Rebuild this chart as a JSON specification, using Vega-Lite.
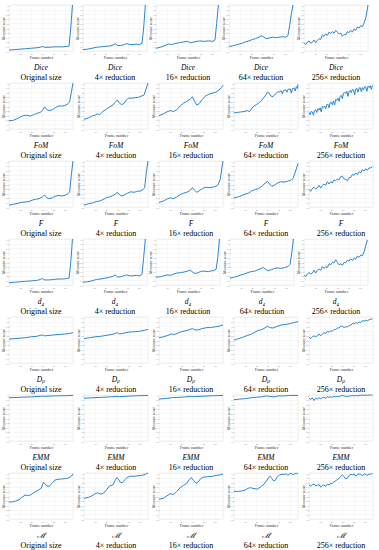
{
"$schema":"https://vega.github.io/schema/vega-lite/v6.json",
"padding":{"left":0,"right":0,"top":2,"bottom":0},
"spacing":-4,
"data":{"values":[
{"p":"a1","x":0,"y":0.02},{"p":"a1","x":10,"y":0.03},{"p":"a1","x":20,"y":0.04},{"p":"a1","x":30,"y":0.05},{"p":"a1","x":40,"y":0.06},{"p":"a1","x":50,"y":0.07},{"p":"a1","x":56,"y":0.08},{"p":"a1","x":60,"y":0.1},{"p":"a1","x":64,"y":0.08},{"p":"a1","x":72,"y":0.08},{"p":"a1","x":80,"y":0.09},{"p":"a1","x":88,"y":0.09},{"p":"a1","x":96,"y":0.09},{"p":"a1","x":104,"y":0.1},{"p":"a1","x":108,"y":0.11},{"p":"a1","x":111,"y":0.5},{"p":"a1","x":114,"y":1},
{"p":"a2","x":0,"y":0.03},{"p":"a2","x":8,"y":0.04},{"p":"a2","x":16,"y":0.06},{"p":"a2","x":24,"y":0.08},{"p":"a2","x":32,"y":0.09},{"p":"a2","x":40,"y":0.1},{"p":"a2","x":48,"y":0.11},{"p":"a2","x":54,"y":0.13},{"p":"a2","x":58,"y":0.16},{"p":"a2","x":62,"y":0.12},{"p":"a2","x":68,"y":0.12},{"p":"a2","x":74,"y":0.14},{"p":"a2","x":78,"y":0.16},{"p":"a2","x":84,"y":0.14},{"p":"a2","x":90,"y":0.14},{"p":"a2","x":96,"y":0.15},{"p":"a2","x":102,"y":0.14},{"p":"a2","x":106,"y":0.17},{"p":"a2","x":109,"y":0.5},{"p":"a2","x":112,"y":1},
{"p":"a3","x":0,"y":0.06},{"p":"a3","x":8,"y":0.08},{"p":"a3","x":16,"y":0.12},{"p":"a3","x":22,"y":0.15},{"p":"a3","x":28,"y":0.14},{"p":"a3","x":34,"y":0.16},{"p":"a3","x":42,"y":0.18},{"p":"a3","x":50,"y":0.2},{"p":"a3","x":56,"y":0.21},{"p":"a3","x":62,"y":0.18},{"p":"a3","x":70,"y":0.2},{"p":"a3","x":78,"y":0.22},{"p":"a3","x":86,"y":0.21},{"p":"a3","x":94,"y":0.22},{"p":"a3","x":102,"y":0.21},{"p":"a3","x":106,"y":0.24},{"p":"a3","x":109,"y":0.6},{"p":"a3","x":112,"y":1},
{"p":"a4","x":0,"y":0.1},{"p":"a4","x":6,"y":0.11},{"p":"a4","x":12,"y":0.13},{"p":"a4","x":18,"y":0.15},{"p":"a4","x":24,"y":0.17},{"p":"a4","x":30,"y":0.2},{"p":"a4","x":36,"y":0.22},{"p":"a4","x":42,"y":0.25},{"p":"a4","x":48,"y":0.27},{"p":"a4","x":54,"y":0.3},{"p":"a4","x":58,"y":0.33},{"p":"a4","x":62,"y":0.31},{"p":"a4","x":66,"y":0.27},{"p":"a4","x":72,"y":0.28},{"p":"a4","x":78,"y":0.3},{"p":"a4","x":84,"y":0.29},{"p":"a4","x":90,"y":0.3},{"p":"a4","x":96,"y":0.31},{"p":"a4","x":102,"y":0.3},{"p":"a4","x":106,"y":0.34},{"p":"a4","x":109,"y":0.55},{"p":"a4","x":112,"y":0.8},{"p":"a4","x":115,"y":1},
{"p":"a5","x":0,"y":0.18},{"p":"a5","x":3,"y":0.14},{"p":"a5","x":6,"y":0.19},{"p":"a5","x":9,"y":0.22},{"p":"a5","x":12,"y":0.17},{"p":"a5","x":15,"y":0.19},{"p":"a5","x":18,"y":0.24},{"p":"a5","x":21,"y":0.18},{"p":"a5","x":24,"y":0.23},{"p":"a5","x":27,"y":0.27},{"p":"a5","x":30,"y":0.25},{"p":"a5","x":33,"y":0.35},{"p":"a5","x":36,"y":0.32},{"p":"a5","x":39,"y":0.37},{"p":"a5","x":42,"y":0.34},{"p":"a5","x":45,"y":0.41},{"p":"a5","x":48,"y":0.38},{"p":"a5","x":51,"y":0.42},{"p":"a5","x":54,"y":0.39},{"p":"a5","x":57,"y":0.45},{"p":"a5","x":60,"y":0.41},{"p":"a5","x":63,"y":0.37},{"p":"a5","x":66,"y":0.39},{"p":"a5","x":69,"y":0.32},{"p":"a5","x":72,"y":0.36},{"p":"a5","x":75,"y":0.35},{"p":"a5","x":78,"y":0.42},{"p":"a5","x":81,"y":0.4},{"p":"a5","x":84,"y":0.45},{"p":"a5","x":87,"y":0.41},{"p":"a5","x":90,"y":0.48},{"p":"a5","x":93,"y":0.45},{"p":"a5","x":96,"y":0.52},{"p":"a5","x":99,"y":0.5},{"p":"a5","x":102,"y":0.55},{"p":"a5","x":105,"y":0.53},{"p":"a5","x":108,"y":0.61},{"p":"a5","x":111,"y":0.72},{"p":"a5","x":113,"y":0.85},{"p":"a5","x":115,"y":1},
{"p":"b1","x":0,"y":0.18},{"p":"b1","x":8,"y":0.19},{"p":"b1","x":14,"y":0.22},{"p":"b1","x":20,"y":0.26},{"p":"b1","x":26,"y":0.29},{"p":"b1","x":32,"y":0.3},{"p":"b1","x":38,"y":0.28},{"p":"b1","x":44,"y":0.31},{"p":"b1","x":50,"y":0.34},{"p":"b1","x":56,"y":0.36},{"p":"b1","x":60,"y":0.4},{"p":"b1","x":64,"y":0.48},{"p":"b1","x":68,"y":0.42},{"p":"b1","x":72,"y":0.4},{"p":"b1","x":78,"y":0.42},{"p":"b1","x":84,"y":0.47},{"p":"b1","x":90,"y":0.5},{"p":"b1","x":96,"y":0.5},{"p":"b1","x":102,"y":0.52},{"p":"b1","x":106,"y":0.55},{"p":"b1","x":109,"y":0.59},{"p":"b1","x":112,"y":0.8},{"p":"b1","x":115,"y":1},
{"p":"b2","x":0,"y":0.21},{"p":"b2","x":8,"y":0.24},{"p":"b2","x":14,"y":0.28},{"p":"b2","x":20,"y":0.3},{"p":"b2","x":24,"y":0.33},{"p":"b2","x":28,"y":0.31},{"p":"b2","x":34,"y":0.38},{"p":"b2","x":40,"y":0.43},{"p":"b2","x":46,"y":0.48},{"p":"b2","x":52,"y":0.52},{"p":"b2","x":56,"y":0.58},{"p":"b2","x":60,"y":0.63},{"p":"b2","x":64,"y":0.56},{"p":"b2","x":68,"y":0.53},{"p":"b2","x":72,"y":0.56},{"p":"b2","x":76,"y":0.63},{"p":"b2","x":80,"y":0.67},{"p":"b2","x":86,"y":0.67},{"p":"b2","x":92,"y":0.68},{"p":"b2","x":98,"y":0.69},{"p":"b2","x":104,"y":0.72},{"p":"b2","x":108,"y":0.74},{"p":"b2","x":111,"y":0.85},{"p":"b2","x":115,"y":1},
{"p":"b3","x":0,"y":0.29},{"p":"b3","x":8,"y":0.33},{"p":"b3","x":14,"y":0.37},{"p":"b3","x":20,"y":0.4},{"p":"b3","x":26,"y":0.38},{"p":"b3","x":32,"y":0.42},{"p":"b3","x":38,"y":0.5},{"p":"b3","x":44,"y":0.56},{"p":"b3","x":50,"y":0.6},{"p":"b3","x":56,"y":0.65},{"p":"b3","x":60,"y":0.7},{"p":"b3","x":64,"y":0.6},{"p":"b3","x":68,"y":0.52},{"p":"b3","x":72,"y":0.55},{"p":"b3","x":78,"y":0.65},{"p":"b3","x":84,"y":0.72},{"p":"b3","x":90,"y":0.76},{"p":"b3","x":96,"y":0.78},{"p":"b3","x":102,"y":0.8},{"p":"b3","x":108,"y":0.85},{"p":"b3","x":112,"y":0.9},{"p":"b3","x":115,"y":0.95},
{"p":"b4","x":0,"y":0.35},{"p":"b4","x":6,"y":0.36},{"p":"b4","x":12,"y":0.37},{"p":"b4","x":18,"y":0.38},{"p":"b4","x":24,"y":0.4},{"p":"b4","x":28,"y":0.38},{"p":"b4","x":32,"y":0.45},{"p":"b4","x":36,"y":0.5},{"p":"b4","x":40,"y":0.53},{"p":"b4","x":44,"y":0.56},{"p":"b4","x":48,"y":0.6},{"p":"b4","x":52,"y":0.66},{"p":"b4","x":56,"y":0.72},{"p":"b4","x":60,"y":0.8},{"p":"b4","x":63,"y":0.78},{"p":"b4","x":66,"y":0.72},{"p":"b4","x":70,"y":0.7},{"p":"b4","x":74,"y":0.76},{"p":"b4","x":78,"y":0.8},{"p":"b4","x":82,"y":0.81},{"p":"b4","x":85,"y":0.83},{"p":"b4","x":87,"y":0.76},{"p":"b4","x":89,"y":0.84},{"p":"b4","x":93,"y":0.85},{"p":"b4","x":95,"y":0.8},{"p":"b4","x":97,"y":0.86},{"p":"b4","x":101,"y":0.87},{"p":"b4","x":103,"y":0.78},{"p":"b4","x":105,"y":0.88},{"p":"b4","x":108,"y":0.89},{"p":"b4","x":110,"y":0.83},{"p":"b4","x":112,"y":0.92},{"p":"b4","x":114,"y":0.88},{"p":"b4","x":115,"y":0.97},
{"p":"b5","x":0,"y":0.36},{"p":"b5","x":2,"y":0.31},{"p":"b5","x":4,"y":0.38},{"p":"b5","x":6,"y":0.37},{"p":"b5","x":8,"y":0.3},{"p":"b5","x":10,"y":0.4},{"p":"b5","x":12,"y":0.42},{"p":"b5","x":14,"y":0.36},{"p":"b5","x":16,"y":0.44},{"p":"b5","x":18,"y":0.41},{"p":"b5","x":20,"y":0.46},{"p":"b5","x":22,"y":0.37},{"p":"b5","x":24,"y":0.49},{"p":"b5","x":26,"y":0.47},{"p":"b5","x":28,"y":0.5},{"p":"b5","x":30,"y":0.44},{"p":"b5","x":32,"y":0.53},{"p":"b5","x":34,"y":0.54},{"p":"b5","x":36,"y":0.46},{"p":"b5","x":38,"y":0.57},{"p":"b5","x":40,"y":0.58},{"p":"b5","x":42,"y":0.53},{"p":"b5","x":44,"y":0.61},{"p":"b5","x":46,"y":0.52},{"p":"b5","x":48,"y":0.64},{"p":"b5","x":50,"y":0.62},{"p":"b5","x":52,"y":0.67},{"p":"b5","x":54,"y":0.6},{"p":"b5","x":56,"y":0.71},{"p":"b5","x":58,"y":0.73},{"p":"b5","x":60,"y":0.66},{"p":"b5","x":62,"y":0.78},{"p":"b5","x":64,"y":0.8},{"p":"b5","x":66,"y":0.77},{"p":"b5","x":68,"y":0.82},{"p":"b5","x":70,"y":0.71},{"p":"b5","x":72,"y":0.81},{"p":"b5","x":74,"y":0.84},{"p":"b5","x":76,"y":0.79},{"p":"b5","x":78,"y":0.86},{"p":"b5","x":80,"y":0.85},{"p":"b5","x":82,"y":0.74},{"p":"b5","x":84,"y":0.87},{"p":"b5","x":86,"y":0.88},{"p":"b5","x":88,"y":0.8},{"p":"b5","x":90,"y":0.89},{"p":"b5","x":92,"y":0.9},{"p":"b5","x":94,"y":0.81},{"p":"b5","x":96,"y":0.9},{"p":"b5","x":98,"y":0.85},{"p":"b5","x":100,"y":0.92},{"p":"b5","x":102,"y":0.91},{"p":"b5","x":104,"y":0.82},{"p":"b5","x":106,"y":0.93},{"p":"b5","x":108,"y":0.9},{"p":"b5","x":110,"y":0.94},{"p":"b5","x":112,"y":0.86},{"p":"b5","x":114,"y":0.95},
{"p":"c1","x":0,"y":0.04},{"p":"c1","x":8,"y":0.06},{"p":"c1","x":16,"y":0.08},{"p":"c1","x":22,"y":0.1},{"p":"c1","x":30,"y":0.11},{"p":"c1","x":36,"y":0.12},{"p":"c1","x":42,"y":0.15},{"p":"c1","x":48,"y":0.17},{"p":"c1","x":54,"y":0.18},{"p":"c1","x":60,"y":0.22},{"p":"c1","x":64,"y":0.26},{"p":"c1","x":68,"y":0.2},{"p":"c1","x":72,"y":0.18},{"p":"c1","x":78,"y":0.2},{"p":"c1","x":84,"y":0.24},{"p":"c1","x":90,"y":0.25},{"p":"c1","x":96,"y":0.24},{"p":"c1","x":102,"y":0.26},{"p":"c1","x":106,"y":0.29},{"p":"c1","x":109,"y":0.33},{"p":"c1","x":112,"y":0.7},{"p":"c1","x":115,"y":1},
{"p":"c2","x":0,"y":0.04},{"p":"c2","x":8,"y":0.07},{"p":"c2","x":16,"y":0.09},{"p":"c2","x":22,"y":0.12},{"p":"c2","x":28,"y":0.13},{"p":"c2","x":34,"y":0.16},{"p":"c2","x":40,"y":0.2},{"p":"c2","x":46,"y":0.22},{"p":"c2","x":52,"y":0.25},{"p":"c2","x":56,"y":0.28},{"p":"c2","x":60,"y":0.32},{"p":"c2","x":64,"y":0.26},{"p":"c2","x":68,"y":0.24},{"p":"c2","x":72,"y":0.26},{"p":"c2","x":78,"y":0.3},{"p":"c2","x":84,"y":0.33},{"p":"c2","x":90,"y":0.32},{"p":"c2","x":96,"y":0.34},{"p":"c2","x":102,"y":0.35},{"p":"c2","x":106,"y":0.38},{"p":"c2","x":109,"y":0.42},{"p":"c2","x":112,"y":0.75},{"p":"c2","x":115,"y":1},
{"p":"c3","x":0,"y":0.1},{"p":"c3","x":8,"y":0.13},{"p":"c3","x":14,"y":0.17},{"p":"c3","x":20,"y":0.2},{"p":"c3","x":26,"y":0.18},{"p":"c3","x":32,"y":0.22},{"p":"c3","x":38,"y":0.27},{"p":"c3","x":44,"y":0.3},{"p":"c3","x":50,"y":0.32},{"p":"c3","x":56,"y":0.36},{"p":"c3","x":60,"y":0.42},{"p":"c3","x":64,"y":0.36},{"p":"c3","x":68,"y":0.32},{"p":"c3","x":72,"y":0.35},{"p":"c3","x":78,"y":0.4},{"p":"c3","x":84,"y":0.43},{"p":"c3","x":90,"y":0.42},{"p":"c3","x":96,"y":0.43},{"p":"c3","x":102,"y":0.45},{"p":"c3","x":106,"y":0.48},{"p":"c3","x":110,"y":0.6},{"p":"c3","x":113,"y":0.85},{"p":"c3","x":115,"y":1},
{"p":"c4","x":0,"y":0.2},{"p":"c4","x":8,"y":0.22},{"p":"c4","x":14,"y":0.25},{"p":"c4","x":20,"y":0.28},{"p":"c4","x":26,"y":0.3},{"p":"c4","x":32,"y":0.35},{"p":"c4","x":38,"y":0.38},{"p":"c4","x":44,"y":0.4},{"p":"c4","x":50,"y":0.45},{"p":"c4","x":56,"y":0.52},{"p":"c4","x":60,"y":0.56},{"p":"c4","x":64,"y":0.5},{"p":"c4","x":68,"y":0.45},{"p":"c4","x":72,"y":0.47},{"p":"c4","x":78,"y":0.52},{"p":"c4","x":84,"y":0.55},{"p":"c4","x":90,"y":0.54},{"p":"c4","x":96,"y":0.56},{"p":"c4","x":102,"y":0.58},{"p":"c4","x":106,"y":0.62},{"p":"c4","x":110,"y":0.75},{"p":"c4","x":115,"y":0.95},
{"p":"c5","x":0,"y":0.38},{"p":"c5","x":3,"y":0.34},{"p":"c5","x":6,"y":0.4},{"p":"c5","x":9,"y":0.43},{"p":"c5","x":12,"y":0.39},{"p":"c5","x":15,"y":0.42},{"p":"c5","x":18,"y":0.47},{"p":"c5","x":21,"y":0.41},{"p":"c5","x":24,"y":0.47},{"p":"c5","x":27,"y":0.5},{"p":"c5","x":30,"y":0.47},{"p":"c5","x":33,"y":0.55},{"p":"c5","x":36,"y":0.5},{"p":"c5","x":39,"y":0.55},{"p":"c5","x":42,"y":0.52},{"p":"c5","x":45,"y":0.59},{"p":"c5","x":48,"y":0.57},{"p":"c5","x":51,"y":0.61},{"p":"c5","x":54,"y":0.59},{"p":"c5","x":57,"y":0.66},{"p":"c5","x":60,"y":0.67},{"p":"c5","x":63,"y":0.61},{"p":"c5","x":66,"y":0.6},{"p":"c5","x":69,"y":0.57},{"p":"c5","x":72,"y":0.64},{"p":"c5","x":75,"y":0.64},{"p":"c5","x":78,"y":0.71},{"p":"c5","x":81,"y":0.69},{"p":"c5","x":84,"y":0.74},{"p":"c5","x":87,"y":0.7},{"p":"c5","x":90,"y":0.77},{"p":"c5","x":93,"y":0.74},{"p":"c5","x":96,"y":0.81},{"p":"c5","x":99,"y":0.78},{"p":"c5","x":102,"y":0.83},{"p":"c5","x":105,"y":0.8},{"p":"c5","x":108,"y":0.85},{"p":"c5","x":111,"y":0.85},{"p":"c5","x":114,"y":0.88},
{"p":"d1","x":0,"y":0.05},{"p":"d1","x":10,"y":0.06},{"p":"d1","x":20,"y":0.07},{"p":"d1","x":30,"y":0.08},{"p":"d1","x":40,"y":0.09},{"p":"d1","x":50,"y":0.1},{"p":"d1","x":56,"y":0.12},{"p":"d1","x":60,"y":0.14},{"p":"d1","x":64,"y":0.11},{"p":"d1","x":72,"y":0.11},{"p":"d1","x":80,"y":0.12},{"p":"d1","x":88,"y":0.13},{"p":"d1","x":96,"y":0.13},{"p":"d1","x":104,"y":0.14},{"p":"d1","x":108,"y":0.15},{"p":"d1","x":111,"y":0.5},{"p":"d1","x":114,"y":1},
{"p":"d2","x":0,"y":0.06},{"p":"d2","x":8,"y":0.07},{"p":"d2","x":16,"y":0.09},{"p":"d2","x":24,"y":0.12},{"p":"d2","x":32,"y":0.13},{"p":"d2","x":40,"y":0.15},{"p":"d2","x":48,"y":0.17},{"p":"d2","x":54,"y":0.19},{"p":"d2","x":58,"y":0.22},{"p":"d2","x":62,"y":0.17},{"p":"d2","x":68,"y":0.18},{"p":"d2","x":74,"y":0.2},{"p":"d2","x":78,"y":0.22},{"p":"d2","x":84,"y":0.2},{"p":"d2","x":90,"y":0.2},{"p":"d2","x":96,"y":0.21},{"p":"d2","x":102,"y":0.2},{"p":"d2","x":106,"y":0.23},{"p":"d2","x":109,"y":0.6},{"p":"d2","x":112,"y":1},
{"p":"d3","x":0,"y":0.17},{"p":"d3","x":8,"y":0.18},{"p":"d3","x":14,"y":0.2},{"p":"d3","x":20,"y":0.22},{"p":"d3","x":26,"y":0.21},{"p":"d3","x":32,"y":0.24},{"p":"d3","x":38,"y":0.26},{"p":"d3","x":44,"y":0.27},{"p":"d3","x":50,"y":0.28},{"p":"d3","x":56,"y":0.3},{"p":"d3","x":62,"y":0.32},{"p":"d3","x":66,"y":0.28},{"p":"d3","x":70,"y":0.25},{"p":"d3","x":76,"y":0.27},{"p":"d3","x":82,"y":0.3},{"p":"d3","x":88,"y":0.3},{"p":"d3","x":94,"y":0.29},{"p":"d3","x":100,"y":0.31},{"p":"d3","x":105,"y":0.32},{"p":"d3","x":108,"y":0.34},{"p":"d3","x":111,"y":0.6},{"p":"d3","x":114,"y":1},
{"p":"d4","x":0,"y":0.15},{"p":"d4","x":8,"y":0.17},{"p":"d4","x":14,"y":0.19},{"p":"d4","x":20,"y":0.22},{"p":"d4","x":26,"y":0.24},{"p":"d4","x":32,"y":0.27},{"p":"d4","x":38,"y":0.29},{"p":"d4","x":44,"y":0.3},{"p":"d4","x":50,"y":0.33},{"p":"d4","x":56,"y":0.36},{"p":"d4","x":60,"y":0.38},{"p":"d4","x":64,"y":0.34},{"p":"d4","x":68,"y":0.31},{"p":"d4","x":74,"y":0.33},{"p":"d4","x":80,"y":0.36},{"p":"d4","x":86,"y":0.37},{"p":"d4","x":92,"y":0.36},{"p":"d4","x":98,"y":0.38},{"p":"d4","x":104,"y":0.4},{"p":"d4","x":108,"y":0.45},{"p":"d4","x":111,"y":0.7},{"p":"d4","x":114,"y":1},
{"p":"d5","x":0,"y":0.22},{"p":"d5","x":3,"y":0.18},{"p":"d5","x":6,"y":0.24},{"p":"d5","x":9,"y":0.27},{"p":"d5","x":12,"y":0.24},{"p":"d5","x":15,"y":0.26},{"p":"d5","x":18,"y":0.32},{"p":"d5","x":21,"y":0.26},{"p":"d5","x":24,"y":0.32},{"p":"d5","x":27,"y":0.35},{"p":"d5","x":30,"y":0.32},{"p":"d5","x":33,"y":0.4},{"p":"d5","x":36,"y":0.36},{"p":"d5","x":39,"y":0.4},{"p":"d5","x":42,"y":0.38},{"p":"d5","x":45,"y":0.46},{"p":"d5","x":48,"y":0.44},{"p":"d5","x":51,"y":0.49},{"p":"d5","x":54,"y":0.48},{"p":"d5","x":57,"y":0.55},{"p":"d5","x":60,"y":0.49},{"p":"d5","x":63,"y":0.44},{"p":"d5","x":66,"y":0.46},{"p":"d5","x":69,"y":0.43},{"p":"d5","x":72,"y":0.49},{"p":"d5","x":75,"y":0.48},{"p":"d5","x":78,"y":0.54},{"p":"d5","x":81,"y":0.52},{"p":"d5","x":84,"y":0.57},{"p":"d5","x":87,"y":0.53},{"p":"d5","x":90,"y":0.59},{"p":"d5","x":93,"y":0.56},{"p":"d5","x":96,"y":0.63},{"p":"d5","x":99,"y":0.6},{"p":"d5","x":102,"y":0.65},{"p":"d5","x":105,"y":0.64},{"p":"d5","x":108,"y":0.72},{"p":"d5","x":111,"y":0.86},{"p":"d5","x":114,"y":0.98},
{"p":"e1","x":0,"y":0.52},{"p":"e1","x":10,"y":0.53},{"p":"e1","x":20,"y":0.54},{"p":"e1","x":30,"y":0.55},{"p":"e1","x":40,"y":0.57},{"p":"e1","x":50,"y":0.58},{"p":"e1","x":56,"y":0.6},{"p":"e1","x":60,"y":0.61},{"p":"e1","x":64,"y":0.59},{"p":"e1","x":72,"y":0.6},{"p":"e1","x":80,"y":0.61},{"p":"e1","x":90,"y":0.62},{"p":"e1","x":100,"y":0.63},{"p":"e1","x":108,"y":0.64},{"p":"e1","x":115,"y":0.66},
{"p":"e2","x":0,"y":0.53},{"p":"e2","x":10,"y":0.55},{"p":"e2","x":20,"y":0.57},{"p":"e2","x":30,"y":0.58},{"p":"e2","x":40,"y":0.6},{"p":"e2","x":50,"y":0.62},{"p":"e2","x":56,"y":0.64},{"p":"e2","x":60,"y":0.66},{"p":"e2","x":64,"y":0.63},{"p":"e2","x":72,"y":0.65},{"p":"e2","x":80,"y":0.67},{"p":"e2","x":90,"y":0.68},{"p":"e2","x":100,"y":0.69},{"p":"e2","x":108,"y":0.71},{"p":"e2","x":115,"y":0.73},
{"p":"e3","x":0,"y":0.55},{"p":"e3","x":8,"y":0.57},{"p":"e3","x":16,"y":0.6},{"p":"e3","x":22,"y":0.63},{"p":"e3","x":28,"y":0.62},{"p":"e3","x":34,"y":0.65},{"p":"e3","x":40,"y":0.68},{"p":"e3","x":48,"y":0.7},{"p":"e3","x":54,"y":0.72},{"p":"e3","x":60,"y":0.75},{"p":"e3","x":64,"y":0.72},{"p":"e3","x":70,"y":0.72},{"p":"e3","x":78,"y":0.75},{"p":"e3","x":86,"y":0.77},{"p":"e3","x":94,"y":0.77},{"p":"e3","x":102,"y":0.79},{"p":"e3","x":108,"y":0.8},{"p":"e3","x":115,"y":0.83},
{"p":"e4","x":0,"y":0.5},{"p":"e4","x":8,"y":0.53},{"p":"e4","x":16,"y":0.56},{"p":"e4","x":24,"y":0.6},{"p":"e4","x":30,"y":0.62},{"p":"e4","x":36,"y":0.66},{"p":"e4","x":42,"y":0.7},{"p":"e4","x":48,"y":0.72},{"p":"e4","x":54,"y":0.75},{"p":"e4","x":60,"y":0.8},{"p":"e4","x":64,"y":0.77},{"p":"e4","x":70,"y":0.76},{"p":"e4","x":78,"y":0.8},{"p":"e4","x":86,"y":0.83},{"p":"e4","x":94,"y":0.84},{"p":"e4","x":102,"y":0.86},{"p":"e4","x":108,"y":0.88},{"p":"e4","x":115,"y":0.9},
{"p":"e5","x":0,"y":0.56},{"p":"e5","x":3,"y":0.53},{"p":"e5","x":6,"y":0.57},{"p":"e5","x":9,"y":0.59},{"p":"e5","x":12,"y":0.57},{"p":"e5","x":15,"y":0.59},{"p":"e5","x":18,"y":0.63},{"p":"e5","x":21,"y":0.59},{"p":"e5","x":24,"y":0.63},{"p":"e5","x":27,"y":0.66},{"p":"e5","x":30,"y":0.64},{"p":"e5","x":33,"y":0.69},{"p":"e5","x":36,"y":0.67},{"p":"e5","x":39,"y":0.7},{"p":"e5","x":42,"y":0.69},{"p":"e5","x":45,"y":0.73},{"p":"e5","x":48,"y":0.73},{"p":"e5","x":51,"y":0.76},{"p":"e5","x":54,"y":0.76},{"p":"e5","x":57,"y":0.8},{"p":"e5","x":60,"y":0.8},{"p":"e5","x":63,"y":0.77},{"p":"e5","x":66,"y":0.79},{"p":"e5","x":69,"y":0.78},{"p":"e5","x":72,"y":0.82},{"p":"e5","x":75,"y":0.82},{"p":"e5","x":78,"y":0.86},{"p":"e5","x":81,"y":0.85},{"p":"e5","x":84,"y":0.88},{"p":"e5","x":87,"y":0.86},{"p":"e5","x":90,"y":0.89},{"p":"e5","x":93,"y":0.88},{"p":"e5","x":96,"y":0.92},{"p":"e5","x":99,"y":0.91},{"p":"e5","x":102,"y":0.93},{"p":"e5","x":105,"y":0.92},{"p":"e5","x":108,"y":0.94},{"p":"e5","x":111,"y":0.95},{"p":"e5","x":114,"y":0.96},
{"p":"f1","x":0,"y":0.94},{"p":"f1","x":20,"y":0.95},{"p":"f1","x":40,"y":0.96},{"p":"f1","x":56,"y":0.97},{"p":"f1","x":60,"y":0.975},{"p":"f1","x":64,"y":0.97},{"p":"f1","x":80,"y":0.98},{"p":"f1","x":100,"y":0.985},{"p":"f1","x":115,"y":0.99},
{"p":"f2","x":0,"y":0.93},{"p":"f2","x":16,"y":0.94},{"p":"f2","x":32,"y":0.95},{"p":"f2","x":48,"y":0.96},{"p":"f2","x":58,"y":0.97},{"p":"f2","x":64,"y":0.965},{"p":"f2","x":80,"y":0.975},{"p":"f2","x":100,"y":0.985},{"p":"f2","x":115,"y":0.99},
{"p":"f3","x":0,"y":0.91},{"p":"f3","x":8,"y":0.92},{"p":"f3","x":16,"y":0.93},{"p":"f3","x":24,"y":0.945},{"p":"f3","x":32,"y":0.945},{"p":"f3","x":48,"y":0.96},{"p":"f3","x":58,"y":0.97},{"p":"f3","x":64,"y":0.965},{"p":"f3","x":80,"y":0.975},{"p":"f3","x":100,"y":0.985},{"p":"f3","x":115,"y":0.99},
{"p":"f4","x":0,"y":0.9},{"p":"f4","x":10,"y":0.91},{"p":"f4","x":20,"y":0.92},{"p":"f4","x":30,"y":0.94},{"p":"f4","x":40,"y":0.95},{"p":"f4","x":50,"y":0.96},{"p":"f4","x":58,"y":0.98},{"p":"f4","x":64,"y":0.97},{"p":"f4","x":72,"y":0.96},{"p":"f4","x":80,"y":0.98},{"p":"f4","x":90,"y":0.98},{"p":"f4","x":100,"y":0.99},{"p":"f4","x":115,"y":0.99},
{"p":"f5","x":0,"y":0.93},{"p":"f5","x":3,"y":0.9},{"p":"f5","x":6,"y":0.94},{"p":"f5","x":9,"y":0.88},{"p":"f5","x":12,"y":0.93},{"p":"f5","x":15,"y":0.91},{"p":"f5","x":18,"y":0.94},{"p":"f5","x":21,"y":0.92},{"p":"f5","x":24,"y":0.94},{"p":"f5","x":27,"y":0.95},{"p":"f5","x":30,"y":0.93},{"p":"f5","x":33,"y":0.96},{"p":"f5","x":36,"y":0.95},{"p":"f5","x":39,"y":0.96},{"p":"f5","x":42,"y":0.95},{"p":"f5","x":45,"y":0.97},{"p":"f5","x":48,"y":0.96},{"p":"f5","x":51,"y":0.97},{"p":"f5","x":54,"y":0.96},{"p":"f5","x":57,"y":0.98},{"p":"f5","x":60,"y":0.99},{"p":"f5","x":63,"y":0.98},{"p":"f5","x":66,"y":0.97},{"p":"f5","x":69,"y":0.97},{"p":"f5","x":72,"y":0.98},{"p":"f5","x":75,"y":0.98},{"p":"f5","x":78,"y":0.99},{"p":"f5","x":81,"y":0.98},{"p":"f5","x":84,"y":0.99},{"p":"f5","x":87,"y":0.98},{"p":"f5","x":90,"y":0.99},{"p":"f5","x":93,"y":0.99},{"p":"f5","x":96,"y":1},{"p":"f5","x":99,"y":0.99},{"p":"f5","x":102,"y":1},{"p":"f5","x":105,"y":0.99},{"p":"f5","x":108,"y":1},{"p":"f5","x":111,"y":1},{"p":"f5","x":114,"y":1},
{"p":"g1","x":0,"y":0.37},{"p":"g1","x":6,"y":0.37},{"p":"g1","x":12,"y":0.39},{"p":"g1","x":18,"y":0.42},{"p":"g1","x":23,"y":0.47},{"p":"g1","x":29,"y":0.52},{"p":"g1","x":35,"y":0.51},{"p":"g1","x":40,"y":0.53},{"p":"g1","x":44,"y":0.57},{"p":"g1","x":50,"y":0.61},{"p":"g1","x":53,"y":0.63},{"p":"g1","x":58,"y":0.67},{"p":"g1","x":62,"y":0.8},{"p":"g1","x":65,"y":0.76},{"p":"g1","x":68,"y":0.72},{"p":"g1","x":72,"y":0.71},{"p":"g1","x":77,"y":0.77},{"p":"g1","x":82,"y":0.84},{"p":"g1","x":86,"y":0.86},{"p":"g1","x":94,"y":0.87},{"p":"g1","x":103,"y":0.88},{"p":"g1","x":108,"y":0.9},{"p":"g1","x":112,"y":0.93},{"p":"g1","x":115,"y":0.98},
{"p":"g2","x":0,"y":0.45},{"p":"g2","x":8,"y":0.47},{"p":"g2","x":14,"y":0.5},{"p":"g2","x":20,"y":0.55},{"p":"g2","x":24,"y":0.57},{"p":"g2","x":30,"y":0.54},{"p":"g2","x":35,"y":0.56},{"p":"g2","x":40,"y":0.63},{"p":"g2","x":46,"y":0.72},{"p":"g2","x":52,"y":0.74},{"p":"g2","x":56,"y":0.84},{"p":"g2","x":59,"y":0.9},{"p":"g2","x":62,"y":0.86},{"p":"g2","x":65,"y":0.8},{"p":"g2","x":69,"y":0.79},{"p":"g2","x":73,"y":0.85},{"p":"g2","x":77,"y":0.9},{"p":"g2","x":83,"y":0.93},{"p":"g2","x":90,"y":0.93},{"p":"g2","x":97,"y":0.94},{"p":"g2","x":104,"y":0.95},{"p":"g2","x":110,"y":0.97},{"p":"g2","x":115,"y":1},
{"p":"g3","x":0,"y":0.43},{"p":"g3","x":8,"y":0.45},{"p":"g3","x":14,"y":0.5},{"p":"g3","x":20,"y":0.55},{"p":"g3","x":26,"y":0.53},{"p":"g3","x":32,"y":0.6},{"p":"g3","x":38,"y":0.68},{"p":"g3","x":44,"y":0.73},{"p":"g3","x":50,"y":0.78},{"p":"g3","x":54,"y":0.85},{"p":"g3","x":58,"y":0.9},{"p":"g3","x":62,"y":0.84},{"p":"g3","x":66,"y":0.78},{"p":"g3","x":70,"y":0.8},{"p":"g3","x":75,"y":0.88},{"p":"g3","x":80,"y":0.91},{"p":"g3","x":88,"y":0.92},{"p":"g3","x":96,"y":0.93},{"p":"g3","x":104,"y":0.95},{"p":"g3","x":110,"y":0.96},{"p":"g3","x":115,"y":0.98},
{"p":"g4","x":0,"y":0.6},{"p":"g4","x":8,"y":0.6},{"p":"g4","x":14,"y":0.61},{"p":"g4","x":20,"y":0.63},{"p":"g4","x":26,"y":0.67},{"p":"g4","x":30,"y":0.68},{"p":"g4","x":36,"y":0.66},{"p":"g4","x":42,"y":0.65},{"p":"g4","x":48,"y":0.7},{"p":"g4","x":54,"y":0.76},{"p":"g4","x":58,"y":0.82},{"p":"g4","x":62,"y":0.9},{"p":"g4","x":65,"y":0.93},{"p":"g4","x":68,"y":0.88},{"p":"g4","x":71,"y":0.83},{"p":"g4","x":74,"y":0.84},{"p":"g4","x":78,"y":0.92},{"p":"g4","x":82,"y":0.96},{"p":"g4","x":86,"y":0.97},{"p":"g4","x":90,"y":0.97},{"p":"g4","x":94,"y":0.98},{"p":"g4","x":97,"y":0.95},{"p":"g4","x":100,"y":0.98},{"p":"g4","x":103,"y":0.99},{"p":"g4","x":106,"y":0.96},{"p":"g4","x":109,"y":0.99},{"p":"g4","x":112,"y":0.98},{"p":"g4","x":115,"y":1},
{"p":"g5","x":0,"y":0.74},{"p":"g5","x":3,"y":0.71},{"p":"g5","x":6,"y":0.75},{"p":"g5","x":9,"y":0.76},{"p":"g5","x":12,"y":0.72},{"p":"g5","x":15,"y":0.73},{"p":"g5","x":18,"y":0.75},{"p":"g5","x":21,"y":0.69},{"p":"g5","x":24,"y":0.73},{"p":"g5","x":27,"y":0.74},{"p":"g5","x":30,"y":0.71},{"p":"g5","x":33,"y":0.76},{"p":"g5","x":36,"y":0.74},{"p":"g5","x":39,"y":0.78},{"p":"g5","x":42,"y":0.77},{"p":"g5","x":45,"y":0.81},{"p":"g5","x":48,"y":0.83},{"p":"g5","x":51,"y":0.86},{"p":"g5","x":54,"y":0.88},{"p":"g5","x":57,"y":0.93},{"p":"g5","x":60,"y":0.96},{"p":"g5","x":63,"y":0.92},{"p":"g5","x":66,"y":0.87},{"p":"g5","x":69,"y":0.89},{"p":"g5","x":72,"y":0.95},{"p":"g5","x":75,"y":0.97},{"p":"g5","x":78,"y":0.96},{"p":"g5","x":81,"y":0.98},{"p":"g5","x":84,"y":0.93},{"p":"g5","x":87,"y":0.97},{"p":"g5","x":90,"y":0.98},{"p":"g5","x":93,"y":0.97},{"p":"g5","x":96,"y":0.94},{"p":"g5","x":99,"y":0.98},{"p":"g5","x":102,"y":0.97},{"p":"g5","x":105,"y":0.95},{"p":"g5","x":108,"y":0.98},{"p":"g5","x":111,"y":0.97},{"p":"g5","x":114,"y":0.99}
]},
"vconcat":[
{"spacing":-1,"hconcat":[
{"width":64,"height":46,"transform":[{"filter":"datum.p=='a1'"}],"mark":"line","encoding":{"x":{"field":"x","type":"quantitative","title":"Frame number","scale":{"domain":[0,115]},"axis":{"values":[20,40,60,80,100]}},"y":{"field":"y","type":"quantitative","title":"Measure score","scale":{"domain":[0,1]}}},"title":{"text":"Dice","subtitle":"Original size","subtitleFont":"Liberation Serif"}},
{"width":64,"height":46,"transform":[{"filter":"datum.p=='a2'"}],"mark":"line","encoding":{"x":{"field":"x","type":"quantitative","title":"Frame number","scale":{"domain":[0,115]},"axis":{"values":[20,40,60,80,100]}},"y":{"field":"y","type":"quantitative","title":"Measure score","scale":{"domain":[0,1]}}},"title":{"text":"Dice","subtitle":"4× reduction","subtitleFont":"Liberation Serif"}},
{"width":64,"height":46,"transform":[{"filter":"datum.p=='a3'"}],"mark":"line","encoding":{"x":{"field":"x","type":"quantitative","title":"Frame number","scale":{"domain":[0,115]},"axis":{"values":[20,40,60,80,100]}},"y":{"field":"y","type":"quantitative","title":"Measure score","scale":{"domain":[0,1]}}},"title":{"text":"Dice","subtitle":"16× reduction","subtitleFont":"Liberation Serif"}},
{"width":64,"height":46,"transform":[{"filter":"datum.p=='a4'"}],"mark":"line","encoding":{"x":{"field":"x","type":"quantitative","title":"Frame number","scale":{"domain":[0,115]},"axis":{"values":[20,40,60,80,100]}},"y":{"field":"y","type":"quantitative","title":"Measure score","scale":{"domain":[0,1]}}},"title":{"text":"Dice","subtitle":"64× reduction","subtitleFont":"Liberation Serif"}},
{"width":64,"height":46,"transform":[{"filter":"datum.p=='a5'"}],"mark":"line","encoding":{"x":{"field":"x","type":"quantitative","title":"Frame number","scale":{"domain":[0,115]},"axis":{"values":[20,40,60,80,100]}},"y":{"field":"y","type":"quantitative","title":"Measure score","scale":{"domain":[0,1]}}},"title":{"text":"Dice","subtitle":"256× reduction","subtitleFont":"Liberation Serif"}}
]},
{"spacing":-1,"hconcat":[
{"width":64,"height":46,"transform":[{"filter":"datum.p=='b1'"}],"mark":"line","encoding":{"x":{"field":"x","type":"quantitative","title":"Frame number","scale":{"domain":[0,115]},"axis":{"values":[20,40,60,80,100]}},"y":{"field":"y","type":"quantitative","title":"Measure score","scale":{"domain":[0,1]}}},"title":{"text":"FoM","subtitle":"Original size","subtitleFont":"Liberation Serif"}},
{"width":64,"height":46,"transform":[{"filter":"datum.p=='b2'"}],"mark":"line","encoding":{"x":{"field":"x","type":"quantitative","title":"Frame number","scale":{"domain":[0,115]},"axis":{"values":[20,40,60,80,100]}},"y":{"field":"y","type":"quantitative","title":"Measure score","scale":{"domain":[0,1]}}},"title":{"text":"FoM","subtitle":"4× reduction","subtitleFont":"Liberation Serif"}},
{"width":64,"height":46,"transform":[{"filter":"datum.p=='b3'"}],"mark":"line","encoding":{"x":{"field":"x","type":"quantitative","title":"Frame number","scale":{"domain":[0,115]},"axis":{"values":[20,40,60,80,100]}},"y":{"field":"y","type":"quantitative","title":"Measure score","scale":{"domain":[0,1]}}},"title":{"text":"FoM","subtitle":"16× reduction","subtitleFont":"Liberation Serif"}},
{"width":64,"height":46,"transform":[{"filter":"datum.p=='b4'"}],"mark":"line","encoding":{"x":{"field":"x","type":"quantitative","title":"Frame number","scale":{"domain":[0,115]},"axis":{"values":[20,40,60,80,100]}},"y":{"field":"y","type":"quantitative","title":"Measure score","scale":{"domain":[0,1]}}},"title":{"text":"FoM","subtitle":"64× reduction","subtitleFont":"Liberation Serif"}},
{"width":64,"height":46,"transform":[{"filter":"datum.p=='b5'"}],"mark":"line","encoding":{"x":{"field":"x","type":"quantitative","title":"Frame number","scale":{"domain":[0,115]},"axis":{"values":[20,40,60,80,100]}},"y":{"field":"y","type":"quantitative","title":"Measure score","scale":{"domain":[0,1]}}},"title":{"text":"FoM","subtitle":"256× reduction","subtitleFont":"Liberation Serif"}}
]},
{"spacing":-1,"hconcat":[
{"width":64,"height":46,"transform":[{"filter":"datum.p=='c1'"}],"mark":"line","encoding":{"x":{"field":"x","type":"quantitative","title":"Frame number","scale":{"domain":[0,115]},"axis":{"values":[20,40,60,80,100]}},"y":{"field":"y","type":"quantitative","title":"Measure score","scale":{"domain":[0,1]}}},"title":{"text":"F","subtitle":"Original size","subtitleFont":"Liberation Serif"}},
{"width":64,"height":46,"transform":[{"filter":"datum.p=='c2'"}],"mark":"line","encoding":{"x":{"field":"x","type":"quantitative","title":"Frame number","scale":{"domain":[0,115]},"axis":{"values":[20,40,60,80,100]}},"y":{"field":"y","type":"quantitative","title":"Measure score","scale":{"domain":[0,1]}}},"title":{"text":"F","subtitle":"4× reduction","subtitleFont":"Liberation Serif"}},
{"width":64,"height":46,"transform":[{"filter":"datum.p=='c3'"}],"mark":"line","encoding":{"x":{"field":"x","type":"quantitative","title":"Frame number","scale":{"domain":[0,115]},"axis":{"values":[20,40,60,80,100]}},"y":{"field":"y","type":"quantitative","title":"Measure score","scale":{"domain":[0,1]}}},"title":{"text":"F","subtitle":"16× reduction","subtitleFont":"Liberation Serif"}},
{"width":64,"height":46,"transform":[{"filter":"datum.p=='c4'"}],"mark":"line","encoding":{"x":{"field":"x","type":"quantitative","title":"Frame number","scale":{"domain":[0,115]},"axis":{"values":[20,40,60,80,100]}},"y":{"field":"y","type":"quantitative","title":"Measure score","scale":{"domain":[0,1]}}},"title":{"text":"F","subtitle":"64× reduction","subtitleFont":"Liberation Serif"}},
{"width":64,"height":46,"transform":[{"filter":"datum.p=='c5'"}],"mark":"line","encoding":{"x":{"field":"x","type":"quantitative","title":"Frame number","scale":{"domain":[0,115]},"axis":{"values":[20,40,60,80,100]}},"y":{"field":"y","type":"quantitative","title":"Measure score","scale":{"domain":[0,1]}}},"title":{"text":"F","subtitle":"256× reduction","subtitleFont":"Liberation Serif"}}
]},
{"spacing":-1,"hconcat":[
{"width":64,"height":46,"transform":[{"filter":"datum.p=='d1'"}],"mark":"line","encoding":{"x":{"field":"x","type":"quantitative","title":"Frame number","scale":{"domain":[0,115]},"axis":{"values":[20,40,60,80,100]}},"y":{"field":"y","type":"quantitative","title":"Measure score","scale":{"domain":[0,1]}}},"title":{"text":"d₄","subtitle":"Original size","subtitleFont":"Liberation Serif"}},
{"width":64,"height":46,"transform":[{"filter":"datum.p=='d2'"}],"mark":"line","encoding":{"x":{"field":"x","type":"quantitative","title":"Frame number","scale":{"domain":[0,115]},"axis":{"values":[20,40,60,80,100]}},"y":{"field":"y","type":"quantitative","title":"Measure score","scale":{"domain":[0,1]}}},"title":{"text":"d₄","subtitle":"4× reduction","subtitleFont":"Liberation Serif"}},
{"width":64,"height":46,"transform":[{"filter":"datum.p=='d3'"}],"mark":"line","encoding":{"x":{"field":"x","type":"quantitative","title":"Frame number","scale":{"domain":[0,115]},"axis":{"values":[20,40,60,80,100]}},"y":{"field":"y","type":"quantitative","title":"Measure score","scale":{"domain":[0,1]}}},"title":{"text":"d₄","subtitle":"16× reduction","subtitleFont":"Liberation Serif"}},
{"width":64,"height":46,"transform":[{"filter":"datum.p=='d4'"}],"mark":"line","encoding":{"x":{"field":"x","type":"quantitative","title":"Frame number","scale":{"domain":[0,115]},"axis":{"values":[20,40,60,80,100]}},"y":{"field":"y","type":"quantitative","title":"Measure score","scale":{"domain":[0,1]}}},"title":{"text":"d₄","subtitle":"64× reduction","subtitleFont":"Liberation Serif"}},
{"width":64,"height":46,"transform":[{"filter":"datum.p=='d5'"}],"mark":"line","encoding":{"x":{"field":"x","type":"quantitative","title":"Frame number","scale":{"domain":[0,115]},"axis":{"values":[20,40,60,80,100]}},"y":{"field":"y","type":"quantitative","title":"Measure score","scale":{"domain":[0,1]}}},"title":{"text":"d₄","subtitle":"256× reduction","subtitleFont":"Liberation Serif"}}
]},
{"spacing":-1,"hconcat":[
{"width":64,"height":46,"transform":[{"filter":"datum.p=='e1'"}],"mark":"line","encoding":{"x":{"field":"x","type":"quantitative","title":"Frame number","scale":{"domain":[0,115]},"axis":{"values":[20,40,60,80,100]}},"y":{"field":"y","type":"quantitative","title":"Measure score","scale":{"domain":[0,1]}}},"title":{"text":"Dₚ","subtitle":"Original size","subtitleFont":"Liberation Serif"}},
{"width":64,"height":46,"transform":[{"filter":"datum.p=='e2'"}],"mark":"line","encoding":{"x":{"field":"x","type":"quantitative","title":"Frame number","scale":{"domain":[0,115]},"axis":{"values":[20,40,60,80,100]}},"y":{"field":"y","type":"quantitative","title":"Measure score","scale":{"domain":[0,1]}}},"title":{"text":"Dₚ","subtitle":"4× reduction","subtitleFont":"Liberation Serif"}},
{"width":64,"height":46,"transform":[{"filter":"datum.p=='e3'"}],"mark":"line","encoding":{"x":{"field":"x","type":"quantitative","title":"Frame number","scale":{"domain":[0,115]},"axis":{"values":[20,40,60,80,100]}},"y":{"field":"y","type":"quantitative","title":"Measure score","scale":{"domain":[0,1]}}},"title":{"text":"Dₚ","subtitle":"16× reduction","subtitleFont":"Liberation Serif"}},
{"width":64,"height":46,"transform":[{"filter":"datum.p=='e4'"}],"mark":"line","encoding":{"x":{"field":"x","type":"quantitative","title":"Frame number","scale":{"domain":[0,115]},"axis":{"values":[20,40,60,80,100]}},"y":{"field":"y","type":"quantitative","title":"Measure score","scale":{"domain":[0,1]}}},"title":{"text":"Dₚ","subtitle":"64× reduction","subtitleFont":"Liberation Serif"}},
{"width":64,"height":46,"transform":[{"filter":"datum.p=='e5'"}],"mark":"line","encoding":{"x":{"field":"x","type":"quantitative","title":"Frame number","scale":{"domain":[0,115]},"axis":{"values":[20,40,60,80,100]}},"y":{"field":"y","type":"quantitative","title":"Measure score","scale":{"domain":[0,1]}}},"title":{"text":"Dₚ","subtitle":"256× reduction","subtitleFont":"Liberation Serif"}}
]},
{"spacing":-1,"hconcat":[
{"width":64,"height":46,"transform":[{"filter":"datum.p=='f1'"}],"mark":"line","encoding":{"x":{"field":"x","type":"quantitative","title":"Frame number","scale":{"domain":[0,115]},"axis":{"values":[20,40,60,80,100]}},"y":{"field":"y","type":"quantitative","title":"Measure score","scale":{"domain":[0,1]}}},"title":{"text":"EMM","subtitle":"Original size","subtitleFont":"Liberation Serif"}},
{"width":64,"height":46,"transform":[{"filter":"datum.p=='f2'"}],"mark":"line","encoding":{"x":{"field":"x","type":"quantitative","title":"Frame number","scale":{"domain":[0,115]},"axis":{"values":[20,40,60,80,100]}},"y":{"field":"y","type":"quantitative","title":"Measure score","scale":{"domain":[0,1]}}},"title":{"text":"EMM","subtitle":"4× reduction","subtitleFont":"Liberation Serif"}},
{"width":64,"height":46,"transform":[{"filter":"datum.p=='f3'"}],"mark":"line","encoding":{"x":{"field":"x","type":"quantitative","title":"Frame number","scale":{"domain":[0,115]},"axis":{"values":[20,40,60,80,100]}},"y":{"field":"y","type":"quantitative","title":"Measure score","scale":{"domain":[0,1]}}},"title":{"text":"EMM","subtitle":"16× reduction","subtitleFont":"Liberation Serif"}},
{"width":64,"height":46,"transform":[{"filter":"datum.p=='f4'"}],"mark":"line","encoding":{"x":{"field":"x","type":"quantitative","title":"Frame number","scale":{"domain":[0,115]},"axis":{"values":[20,40,60,80,100]}},"y":{"field":"y","type":"quantitative","title":"Measure score","scale":{"domain":[0,1]}}},"title":{"text":"EMM","subtitle":"64× reduction","subtitleFont":"Liberation Serif"}},
{"width":64,"height":46,"transform":[{"filter":"datum.p=='f5'"}],"mark":"line","encoding":{"x":{"field":"x","type":"quantitative","title":"Frame number","scale":{"domain":[0,115]},"axis":{"values":[20,40,60,80,100]}},"y":{"field":"y","type":"quantitative","title":"Measure score","scale":{"domain":[0,1]}}},"title":{"text":"EMM","subtitle":"256× reduction","subtitleFont":"Liberation Serif"}}
]},
{"spacing":-1,"hconcat":[
{"width":64,"height":46,"transform":[{"filter":"datum.p=='g1'"}],"mark":"line","encoding":{"x":{"field":"x","type":"quantitative","title":"Frame number","scale":{"domain":[0,115]},"axis":{"values":[20,40,60,80,100]}},"y":{"field":"y","type":"quantitative","title":"Measure score","scale":{"domain":[0,1]}}},"title":{"text":"ℳ","subtitle":"Original size","subtitleFont":"Liberation Serif"}},
{"width":64,"height":46,"transform":[{"filter":"datum.p=='g2'"}],"mark":"line","encoding":{"x":{"field":"x","type":"quantitative","title":"Frame number","scale":{"domain":[0,115]},"axis":{"values":[20,40,60,80,100]}},"y":{"field":"y","type":"quantitative","title":"Measure score","scale":{"domain":[0,1]}}},"title":{"text":"ℳ","subtitle":"4× reduction","subtitleFont":"Liberation Serif"}},
{"width":64,"height":46,"transform":[{"filter":"datum.p=='g3'"}],"mark":"line","encoding":{"x":{"field":"x","type":"quantitative","title":"Frame number","scale":{"domain":[0,115]},"axis":{"values":[20,40,60,80,100]}},"y":{"field":"y","type":"quantitative","title":"Measure score","scale":{"domain":[0,1]}}},"title":{"text":"ℳ","subtitle":"16× reduction","subtitleFont":"Liberation Serif"}},
{"width":64,"height":46,"transform":[{"filter":"datum.p=='g4'"}],"mark":"line","encoding":{"x":{"field":"x","type":"quantitative","title":"Frame number","scale":{"domain":[0,115]},"axis":{"values":[20,40,60,80,100]}},"y":{"field":"y","type":"quantitative","title":"Measure score","scale":{"domain":[0,1]}}},"title":{"text":"ℳ","subtitle":"64× reduction","subtitleFont":"Liberation Serif"}},
{"width":64,"height":46,"transform":[{"filter":"datum.p=='g5'"}],"mark":"line","encoding":{"x":{"field":"x","type":"quantitative","title":"Frame number","scale":{"domain":[0,115]},"axis":{"values":[20,40,60,80,100]}},"y":{"field":"y","type":"quantitative","title":"Measure score","scale":{"domain":[0,1]}}},"title":{"text":"ℳ","subtitle":"256× reduction","subtitleFont":"Liberation Serif"}}
]}
],
"config":{
"font":"Liberation Serif",
"view":{"stroke":"#e3e3e3","strokeWidth":0.6},
"axis":{"grid":true,"gridColor":"#eeeeee","gridWidth":0.5,"domain":false,"ticks":false,"labelFontSize":2.2,"labelColor":"#777","labelPadding":0.5,"labelFont":"Liberation Serif","titleFont":"Liberation Serif","titleFontSize":4,"titleFontWeight":"normal","titleColor":"#333","titlePadding":0.5},
"axisX":{"labelPadding":1.5,"titlePadding":1},
"axisY":{"tickCount":10,"format":".1f"},
"title":{"orient":"bottom","anchor":"middle","frame":"group","offset":0,"font":"Liberation Serif","fontSize":7.5,"fontStyle":"italic","fontWeight":"normal","color":"black","subtitleFont":"Liberation Serif","subtitleFontStyle":"normal","subtitleFontSize":8,"subtitleColor":"black","subtitlePadding":0},
"line":{"color":"#2b86d1","strokeWidth":1}
}
}
